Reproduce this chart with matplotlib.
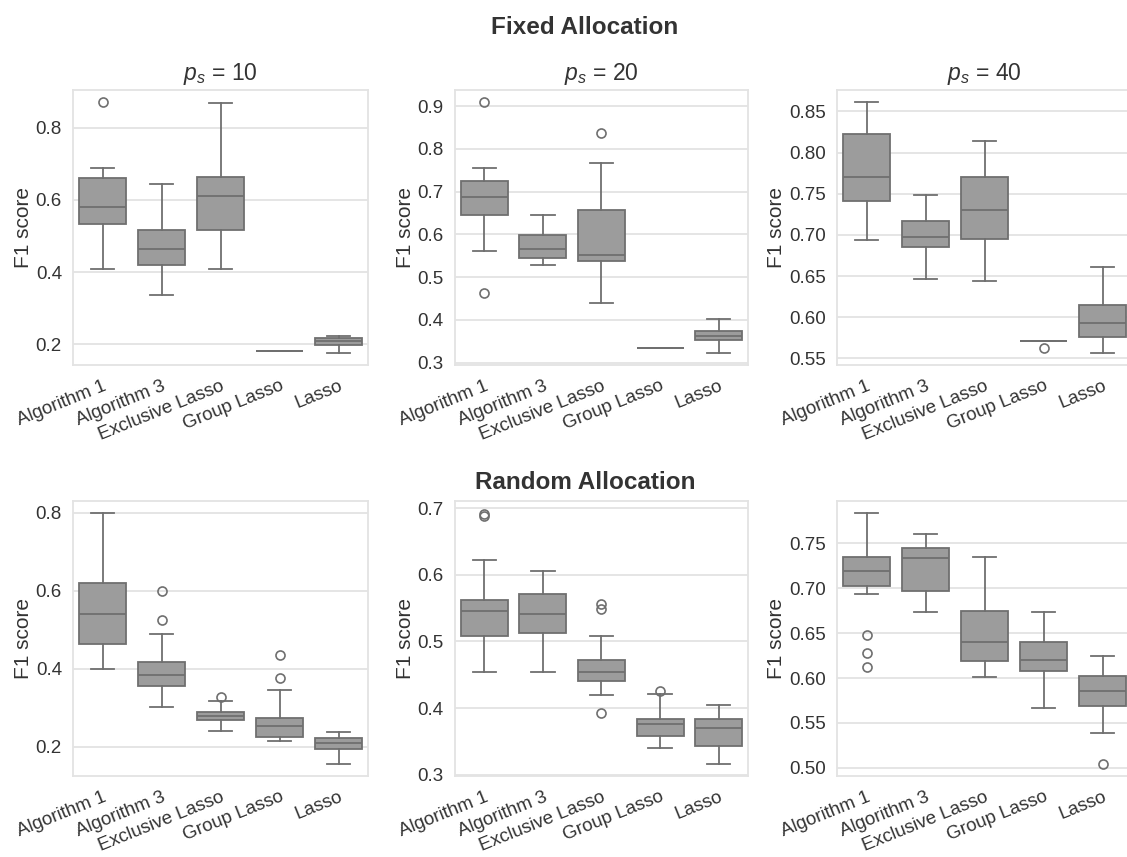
import matplotlib
matplotlib.use("Agg")
import matplotlib.pyplot as plt
from matplotlib.ticker import MultipleLocator, FormatStrFormatter

plt.rcParams['font.family'] = ['Liberation Sans', 'DejaVu Sans']
plt.rcParams['mathtext.fontset'] = 'custom'
plt.rcParams['mathtext.rm'] = 'Liberation Sans'
plt.rcParams['mathtext.it'] = 'Liberation Sans:italic'

methods = ['Algorithm 1', 'Algorithm 3', 'Exclusive Lasso', 'Group Lasso', 'Lasso']

# fixed allocation, p_s = 10
f10_med = [0.579, 0.464, 0.610, 0.182, 0.210]
f10_q1 = [0.534, 0.420, 0.517, 0.182, 0.199]
f10_q3 = [0.661, 0.518, 0.662, 0.182, 0.219]
f10_lo = [0.409, 0.338, 0.409, 0.182, 0.177]
f10_hi = [0.689, 0.645, 0.869, 0.182, 0.224]
f10_fl = [[0.870], [], [], [], []]

# fixed allocation, p_s = 20
f20_med = [0.687, 0.566, 0.552, 0.333, 0.363]
f20_q1 = [0.645, 0.544, 0.537, 0.333, 0.353]
f20_q3 = [0.725, 0.599, 0.656, 0.333, 0.374]
f20_lo = [0.562, 0.529, 0.439, 0.333, 0.323]
f20_hi = [0.756, 0.646, 0.767, 0.333, 0.403]
f20_fl = [[0.909, 0.463], [], [0.838], [], []]

# fixed allocation, p_s = 40
f40_med = [0.770, 0.698, 0.730, 0.571, 0.593]
f40_q1 = [0.741, 0.685, 0.695, 0.571, 0.576]
f40_q3 = [0.823, 0.717, 0.770, 0.571, 0.615]
f40_lo = [0.694, 0.647, 0.644, 0.571, 0.557]
f40_hi = [0.861, 0.748, 0.8135, 0.571, 0.661]
f40_fl = [[], [], [], [0.563], []]

# random allocation, p_s = 10
r10_med = [0.541, 0.383, 0.280, 0.254, 0.210]
r10_q1 = [0.463, 0.357, 0.268, 0.226, 0.194]
r10_q3 = [0.620, 0.417, 0.290, 0.274, 0.223]
r10_lo = [0.400, 0.302, 0.240, 0.214, 0.155]
r10_hi = [0.800, 0.489, 0.318, 0.345, 0.238]
r10_fl = [[], [0.600, 0.526], [0.328], [0.435, 0.377], []]

# random allocation, p_s = 20
r20_med = [0.546, 0.5415, 0.454, 0.376, 0.370]
r20_q1 = [0.508, 0.513, 0.441, 0.358, 0.343]
r20_q3 = [0.562, 0.572, 0.472, 0.384, 0.384]
r20_lo = [0.454, 0.454, 0.419, 0.340, 0.316]
r20_hi = [0.623, 0.606, 0.508, 0.421, 0.404]
r20_fl = [[0.691, 0.689], [], [0.556, 0.549, 0.392], [0.426], []]

# random allocation, p_s = 40
r40_med = [0.719, 0.734, 0.640, 0.620, 0.586]
r40_q1 = [0.702, 0.697, 0.619, 0.608, 0.569]
r40_q3 = [0.735, 0.745, 0.675, 0.640, 0.602]
r40_lo = [0.693, 0.673, 0.601, 0.5665, 0.539]
r40_hi = [0.784, 0.7605, 0.735, 0.673, 0.624]
r40_fl = [[0.648, 0.628, 0.612], [], [], [], [0.504]]

panels = [
    (f10_med, f10_q1, f10_q3, f10_lo, f10_hi, f10_fl),
    (f20_med, f20_q1, f20_q3, f20_lo, f20_hi, f20_fl),
    (f40_med, f40_q1, f40_q3, f40_lo, f40_hi, f40_fl),
    (r10_med, r10_q1, r10_q3, r10_lo, r10_hi, r10_fl),
    (r20_med, r20_q1, r20_q3, r20_lo, r20_hi, r20_fl),
    (r40_med, r40_q1, r40_q3, r40_lo, r40_hi, r40_fl),
]
titles = ['$p_s$ = 10', '$p_s$ = 20', '$p_s$ = 40', None, None, None]
ylims = [(0.143, 0.904), (0.294, 0.938), (0.542, 0.876),
         (0.125, 0.831), (0.298, 0.711), (0.491, 0.797)]
ysteps = [0.2, 0.1, 0.05, 0.2, 0.1, 0.05]
yfmts = ['%.1f', '%.1f', '%.2f', '%.1f', '%.1f', '%.2f']

# axes boxes in figure fractions
lefts = [0.0648, 0.4037, 0.7427]
widths = [0.2618, 0.260, 0.2618]
bottoms = [0.574, 0.0945]
height = 0.321

box_face = '#9c9c9c'
line_col = '#6f6f6f'
grid_col = '#e3e3e3'
text_col = '#333333'

fig = plt.figure(figsize=(11.27, 8.57), dpi=100)

for i, (med, q1, q3, lo, hi, fl) in enumerate(panels):
    r, c = divmod(i, 3)
    ax = fig.add_axes([lefts[c], bottoms[r], widths[c], height])
    stats = []
    for k, name in enumerate(methods):
        stats.append({'med': med[k], 'q1': q1[k], 'q3': q3[k],
                      'whislo': lo[k], 'whishi': hi[k], 'fliers': fl[k],
                      'label': name})
    ax.bxp(stats, positions=range(len(methods)), widths=0.8, patch_artist=True,
           capwidths=0.4,
           boxprops=dict(facecolor=box_face, edgecolor=line_col, linewidth=1.3),
           medianprops=dict(color=line_col, linewidth=1.3),
           whiskerprops=dict(color=line_col, linewidth=1.3),
           capprops=dict(color=line_col, linewidth=1.3),
           flierprops=dict(marker='o', markersize=6.5, markerfacecolor='none',
                           markeredgecolor=line_col, markeredgewidth=1.2))
    ax.set_xlim(-0.5, len(methods) - 0.5)
    ax.set_ylim(*ylims[i])
    ax.yaxis.set_major_locator(MultipleLocator(ysteps[i]))
    ax.yaxis.set_major_formatter(FormatStrFormatter(yfmts[i]))
    ax.grid(axis='y', color=grid_col, linewidth=1.3)
    ax.set_axisbelow(True)
    for sp in ax.spines.values():
        sp.set_color(grid_col)
        sp.set_linewidth(1.3)
    ax.tick_params(length=0, labelsize=13.5, colors=text_col)
    ax.tick_params(axis='y', pad=8)
    ax.tick_params(axis='x', pad=9)
    ax.set_xticks(range(len(methods)))
    ax.set_xticklabels(methods, rotation=22, ha='right', rotation_mode='anchor')
    ax.set_ylabel('F1 score', fontsize=15, color=text_col, labelpad=2)
    if titles[i]:
        ax.set_title(titles[i], fontsize=16.5, color=text_col, pad=7)

fig.text(0.519, 0.968, 'Fixed Allocation', ha='center', va='center',
         fontsize=17.5, fontweight='bold', color=text_col)
fig.text(0.519, 0.437, 'Random Allocation', ha='center', va='center',
         fontsize=17.5, fontweight='bold', color=text_col)

fig.savefig('out.png', dpi=100)
